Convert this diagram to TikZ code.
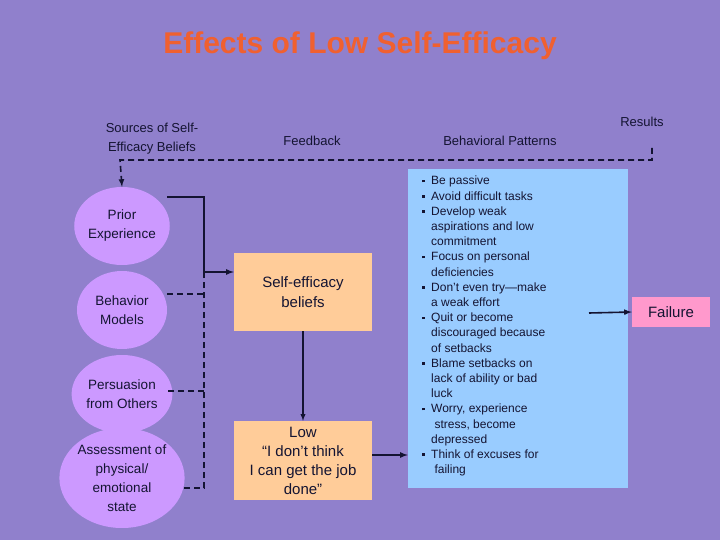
\documentclass[tikz,border=0pt]{standalone}
\usepackage{fontspec}
\setmainfont{Liberation Sans}
\definecolor{bg}{RGB}{144,128,204}
\definecolor{ttl}{RGB}{240,96,48}
\definecolor{circ}{RGB}{204,153,255}
\definecolor{orng}{RGB}{255,204,153}
\definecolor{blu}{RGB}{153,204,255}
\definecolor{pnk}{RGB}{255,153,204}
\definecolor{ink}{RGB}{20,20,50}
\newcommand{\bu}{\makebox[9pt][l]{\raisebox{2.5pt}{\rule{2.6pt}{2.6pt}}}}
\newcommand{\ind}{\hspace*{9pt}}
\begin{document}
\begin{tikzpicture}[x=1pt,y=-1pt,
  hdr/.style={font=\fontsize{13}{15}\selectfont,text=ink,align=center},
  src/.style={ellipse,fill=circ,inner sep=0pt,font=\fontsize{13.5}{19}\selectfont,text=ink,align=center},
  obox/.style={fill=orng,text=ink,align=center,inner sep=0pt},
  link/.style={line width=1.6pt,draw=ink},
  dlink/.style={line width=1.6pt,draw=ink,dash pattern=on 6pt off 4pt},
  arr/.style={-latex}]
\usetikzlibrary{shapes.geometric}
\fill[bg] (0,0) rectangle (720,540);
\useasboundingbox (0,0) rectangle (720,540);
\node[font=\bfseries\fontsize{30}{34}\selectfont,text=ttl] (title) at (360,46) {Effects of Low Self-Efficacy};
\node[hdr,font=\fontsize{13}{19}\selectfont] (h1) at (152,139) {Sources of Self-\\Efficacy Beliefs};
\node[hdr] (h2) at (312,141) {Feedback};
\node[hdr] (h3) at (500,141) {Behavioral Patterns};
\node[hdr] (h4) at (642,122) {Results};
% circles
\node[src,minimum width=88pt,minimum height=78pt] (c1) at (122,226) {Prior\\Experience};
\node[src,minimum width=90pt,minimum height=78pt] (c2) at (122,310) {Behavior\\Models};
\node[src,minimum width=88pt,minimum height=78pt] (c3) at (122,394) {Persuasion\\from Others};
\node[src,minimum width=124pt,minimum height=100pt,font=\fontsize{13.5}{19}\selectfont] (c4) at (122,478) {Assessment of\\physical/\\emotional\\state};
% boxes
\node[obox,minimum width=138pt,minimum height=78pt,font=\fontsize{15}{20}\selectfont] (b1) at (303,292) {Self-efficacy\\beliefs};
\node[obox,minimum width=138pt,minimum height=79pt,font=\fontsize{15}{19}\selectfont] (b2) at (303,460.5) {Low\\“I don’t think\\I can get the job\\done”};
\node[fill=blu,minimum width=220pt,minimum height=319pt,inner sep=0pt] (bp) at (518,328.5) {};
\node[anchor=north west,align=left,font=\fontsize{12}{15.2}\selectfont,text=ink,inner sep=0pt] (list) at (422,176) {%
\bu Be passive\\
\bu Avoid difficult tasks\\
\bu Develop weak\\
\ind aspirations and low\\
\ind commitment\\
\bu Focus on personal\\
\ind deficiencies\\
\bu Don’t even try—make\\
\ind a weak effort\\
\bu Quit or become\\
\ind discouraged because\\
\ind of setbacks\\
\bu Blame setbacks on\\
\ind lack of ability or bad\\
\ind luck\\
\bu Worry, experience\\
\ind\ stress, become\\
\ind depressed\\
\bu Think of excuses for\\
\ind\ failing};
\node[fill=pnk,minimum width=78pt,minimum height=30pt,inner sep=0pt,font=\fontsize{15}{18}\selectfont,text=ink] (fail) at (671,312) {Failure};
% connectors
\coordinate (j1) at (204,197);
\coordinate (j2) at (204,272);
\coordinate (j4) at (204,488);
\draw[link] (167,197) -- (j1) -- (j2);
\draw[link,arr] (j2) -- (b1.west |- j2);
\draw[dlink] (c2.east |- 0,294) -- (204,294);
\draw[dlink] (168,391) -- (204,391);
\draw[dlink] (184,488) -- (j4) -- (j2);
\draw[link,arr,line width=1.3pt] (b1) -- (b2);
\draw[link,arr] (b2.east |- 0,455) -- (bp.west |- 0,455);
\draw[link,arr] (589,313) -- (fail.west);
\coordinate (f1) at (652,148);
\coordinate (f2) at (652,160);
\coordinate (f3) at (120,160);
\draw[dlink,-latex] (f1) -- (f2) -- (f3) -- (c1.north);
\end{tikzpicture}
\end{document}
